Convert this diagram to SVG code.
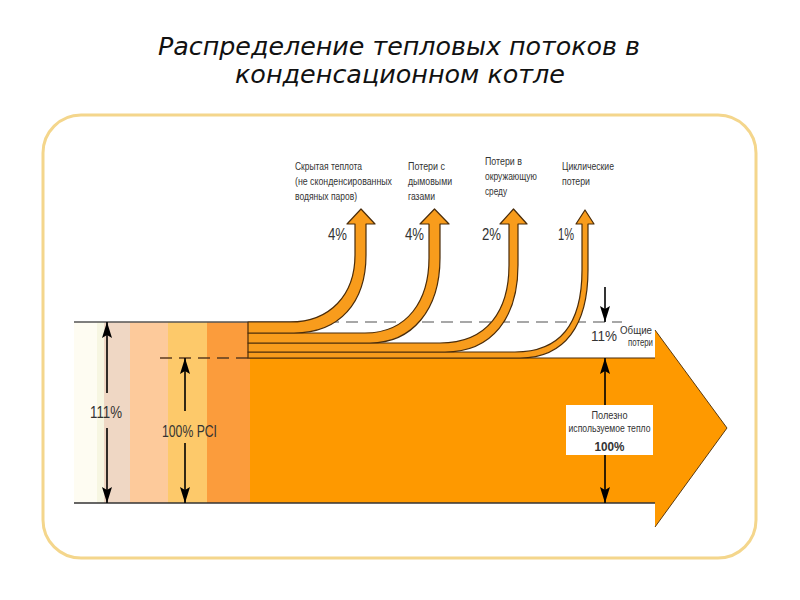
<svg xmlns="http://www.w3.org/2000/svg" width="800" height="600" viewBox="0 0 800 600">
<defs>
<style>
.t{font-family:"Liberation Sans",Arial,sans-serif;fill:#333}
.title{font-family:"DejaVu Sans",sans-serif;font-style:italic;font-size:24px;fill:#111;text-anchor:middle}
.stream{fill:#f89c1c;stroke:#4a2c0a;stroke-width:1.2;stroke-linejoin:round}
.dim{stroke:#000;stroke-width:1.6;fill:none}
</style>
<marker id="ah" viewBox="0 0 16 10" refX="16" refY="5" markerWidth="16" markerHeight="10" markerUnits="userSpaceOnUse" orient="auto">
<path d="M0,0 L16,5 L0,10 L3,5 Z" fill="#000"/>
</marker>
</defs>
<rect width="800" height="600" fill="#fff"/>
<g id="title">
<text class="title" x="399" y="55" textLength="482" lengthAdjust="spacingAndGlyphs">Распределение тепловых потоков в</text>
<text class="title" x="400" y="83" textLength="330" lengthAdjust="spacingAndGlyphs">конденсационном котле</text>
</g>
<g id="frame">
<rect x="43" y="115" width="713" height="443" rx="38" fill="#fff" stroke="#f4d68c" stroke-width="3"/>
</g>
<g id="input-bands">
<rect x="74" y="322" width="23" height="181" fill="#fefcf2"/>
<rect x="97" y="322" width="7" height="181" fill="#f7f6e2"/>
<rect x="104" y="322" width="26" height="181" fill="#efd7c4"/>
<rect x="130" y="322" width="38" height="181" fill="#fdca9b"/>
<rect x="168" y="322" width="39" height="181" fill="#fdc96a"/>
<rect x="207" y="322" width="44" height="181" fill="#fb9c3c"/>
</g>
<g id="useful-heat-arrow">
<path d="M250,358 H655 V330 L727,428 L655,527 V503 H250 Z" fill="#fe9900"/>
<polyline points="655,330 727,428 655,527" fill="none" stroke="#5a3a10" stroke-width="1"/>
</g>
<g id="connectors">
<line x1="74" y1="322" x2="300" y2="322" stroke="#555" stroke-width="1.3"/>
<line x1="327" y1="322" x2="622" y2="322" stroke="#8a8a8a" stroke-width="1.5" stroke-dasharray="12 7"/>
<line x1="160" y1="358" x2="248" y2="358" stroke="#5b3b1f" stroke-width="1.6" stroke-dasharray="12 7"/>
<line x1="248" y1="358" x2="655" y2="358" stroke="#4a2c0a" stroke-width="1.2"/>
<line x1="74" y1="503" x2="655" y2="503" stroke="#333" stroke-width="1.3"/>
<line class="dim" x1="107" y1="393" x2="107" y2="322" marker-end="url(#ah)"/>
<line class="dim" x1="107" y1="428" x2="107" y2="503" marker-end="url(#ah)"/>
<line class="dim" x1="185" y1="411" x2="185" y2="358" marker-end="url(#ah)"/>
<line class="dim" x1="185" y1="443" x2="185" y2="503" marker-end="url(#ah)"/>
<line class="dim" x1="605" y1="287" x2="605" y2="322" marker-end="url(#ah)"/>
<line class="dim" x1="605" y1="405" x2="605" y2="358" marker-end="url(#ah)"/>
<line class="dim" x1="605" y1="455" x2="605" y2="503" marker-end="url(#ah)"/>
</g>
<g id="stream-cyclic">
<path class="stream" d="M248,352 H515 C565,352 582,318 582,270 V224 H576 L585,210 L594,224 H588 V270 C588,325 565,358 520,358 H248 Z"/>
</g>
<g id="stream-environment">
<path class="stream" d="M248,343 H440 C488,343 509,310 509,265 V224 H500 L513.5,209 L527,224 H518 V265 C518,318 492,352 445,352 H248 Z"/>
</g>
<g id="stream-flue">
<path class="stream" d="M248,333 H365 C408,333 429,300 429,258 V224 H420 L434.5,209 L449,224 H440 V258 C440,310 412,343 370,343 H248 Z"/>
</g>
<g id="stream-latent">
<path class="stream" d="M248,322 H290 C330,322 355,295 355,255 V224 H347 L361,209 L375,224 H366 V255 C366,302 340,333 294,333 H248 Z"/>
</g>
<g id="loss-labels">
<text class="t" transform="translate(295,170) scale(0.84,1)" font-size="11" textLength="79.8" lengthAdjust="spacingAndGlyphs">Скрытая теплота</text>
<text class="t" transform="translate(295,185) scale(0.84,1)" font-size="11" textLength="115.5" lengthAdjust="spacingAndGlyphs">(не сконденсированных</text>
<text class="t" transform="translate(295,200) scale(0.84,1)" font-size="11" textLength="73.8" lengthAdjust="spacingAndGlyphs">водяных паров)</text>
<text class="t" transform="translate(408,170) scale(0.84,1)" font-size="11" textLength="44" lengthAdjust="spacingAndGlyphs">Потери с</text>
<text class="t" transform="translate(408,185) scale(0.84,1)" font-size="11" textLength="52.4" lengthAdjust="spacingAndGlyphs">дымовыми</text>
<text class="t" transform="translate(408,200) scale(0.84,1)" font-size="11" textLength="32.1" lengthAdjust="spacingAndGlyphs">газами</text>
<text class="t" transform="translate(485,165) scale(0.84,1)" font-size="11" textLength="44" lengthAdjust="spacingAndGlyphs">Потери в</text>
<text class="t" transform="translate(485,180) scale(0.84,1)" font-size="11" textLength="61.9" lengthAdjust="spacingAndGlyphs">окружающую</text>
<text class="t" transform="translate(485,195) scale(0.84,1)" font-size="11" textLength="26.2" lengthAdjust="spacingAndGlyphs">среду</text>
<text class="t" transform="translate(562,170) scale(0.84,1)" font-size="11" textLength="61.9" lengthAdjust="spacingAndGlyphs">Циклические</text>
<text class="t" transform="translate(562,185) scale(0.84,1)" font-size="11" textLength="33.3" lengthAdjust="spacingAndGlyphs">потери</text>
<text class="t" x="328" y="240" font-size="16" textLength="19" lengthAdjust="spacingAndGlyphs">4%</text>
<text class="t" x="405" y="240" font-size="16" textLength="19" lengthAdjust="spacingAndGlyphs">4%</text>
<text class="t" x="482" y="240" font-size="16" textLength="19" lengthAdjust="spacingAndGlyphs">2%</text>
<text class="t" x="558" y="240" font-size="16" textLength="16" lengthAdjust="spacingAndGlyphs">1%</text>
</g>
<g id="total-labels">
<text class="t" x="90" y="418" font-size="17" textLength="32" lengthAdjust="spacingAndGlyphs">111%</text>
<text class="t" x="162" y="437" font-size="17" textLength="55" lengthAdjust="spacingAndGlyphs">100% PCI</text>
<text class="t" x="591" y="341" font-size="15" textLength="26" lengthAdjust="spacingAndGlyphs">11%</text>
<text class="t" x="620" y="334" font-size="10" textLength="32" lengthAdjust="spacingAndGlyphs">Общие</text>
<text class="t" x="628" y="346" font-size="10" textLength="25" lengthAdjust="spacingAndGlyphs">потери</text>
</g>
<g id="useful-label">
<rect x="566" y="405" width="87" height="50" fill="#fff"/>
<text class="t" x="609.5" y="419" font-size="10" text-anchor="middle" textLength="36" lengthAdjust="spacingAndGlyphs">Полезно</text>
<text class="t" x="609.5" y="432" font-size="10" text-anchor="middle" textLength="82" lengthAdjust="spacingAndGlyphs">используемое тепло</text>
<text class="t" x="609.5" y="451" font-size="13" font-weight="bold" text-anchor="middle" fill="#111" textLength="30" lengthAdjust="spacingAndGlyphs">100%</text>
</g>
</svg>
